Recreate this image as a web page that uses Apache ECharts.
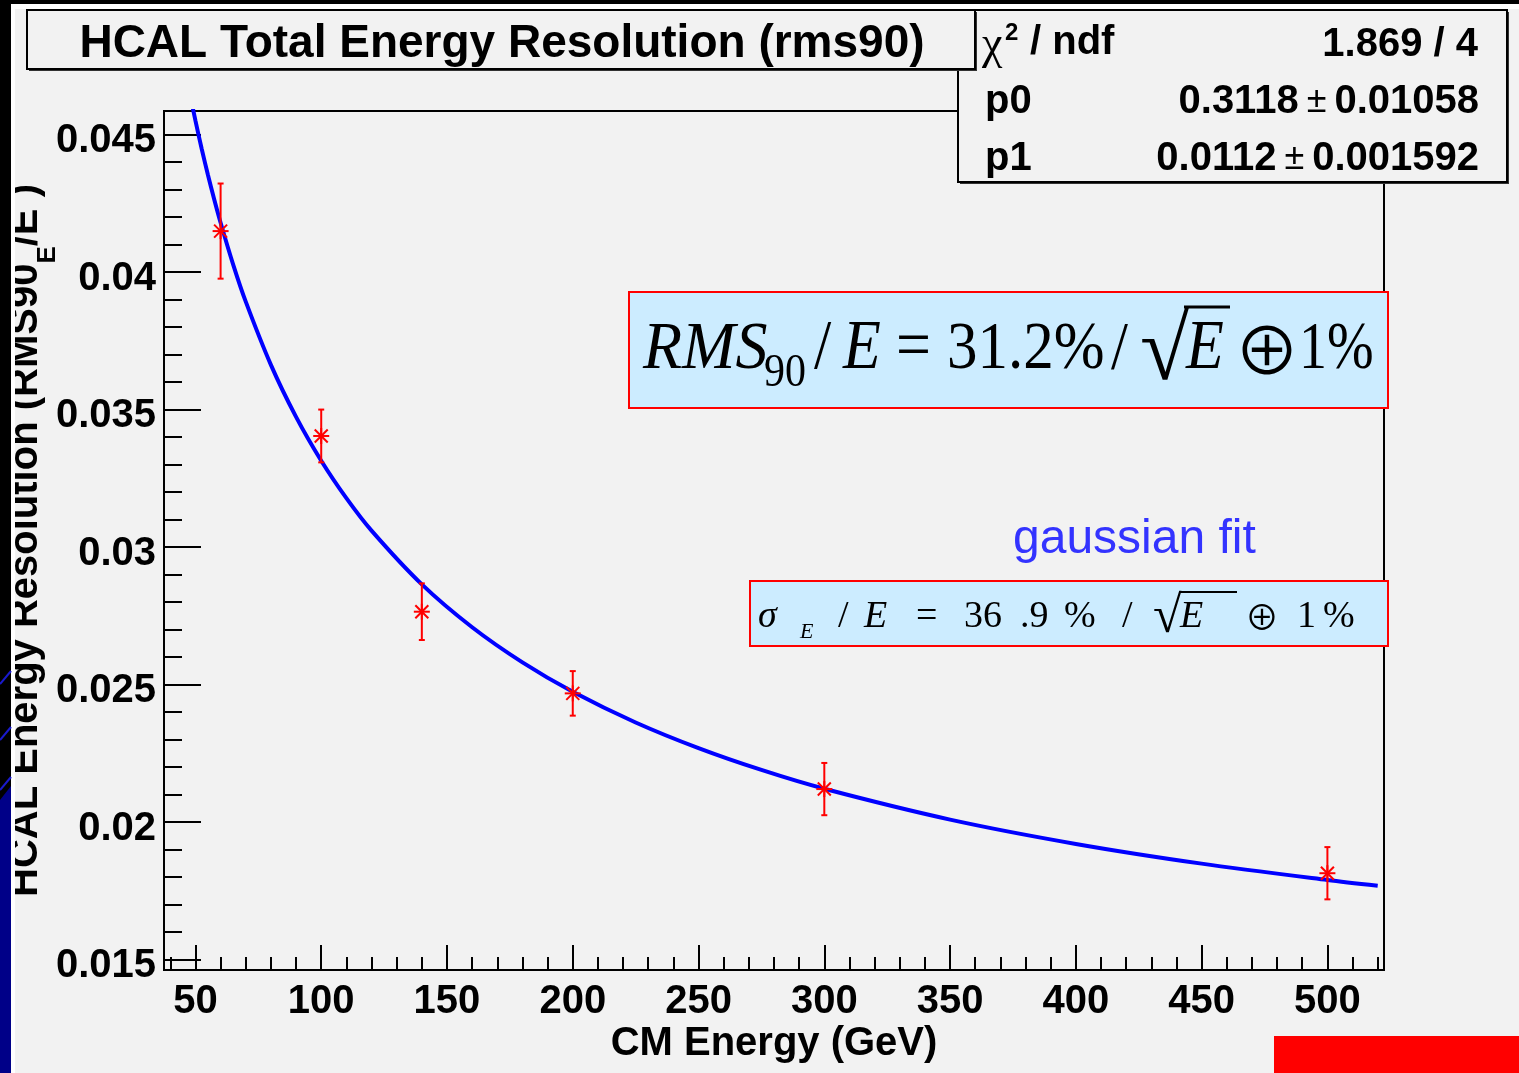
<!DOCTYPE html>
<html><head><meta charset="utf-8">
<script src="https://cdn.jsdelivr.net/npm/echarts@6/dist/echarts.min.js"></script>
<style>html,body{margin:0;padding:0;background:#f2f2f2;overflow:hidden}#c{width:1519px;height:1073px}</style>
</head><body><div id="c"></div>
<script>
// ---- data ----
const energies = [60, 100, 140, 200, 300, 500];
const resolution = [0.04148, 0.03403, 0.02764, 0.02467, 0.02119, 0.01813];
const resolutionErr = [0.00173, 0.00096, 0.00103, 0.00081, 0.00095, 0.00095];
// fit curve sampled (p0/sqrt(E) (+) p1, p0=0.3118, p1=0.0112)
const fitEnergies = [45, 47.5, 50, 52.5, 55, 57.5, 60, 65, 70, 80, 90, 100, 110, 120, 140, 160, 180, 200, 225, 250, 275, 300, 350, 400, 450, 500, 520];
const fitValues = [0.047811, 0.046606, 0.045495, 0.044466, 0.043509, 0.042617, 0.041782, 0.040263, 0.038914, 0.036615, 0.034723, 0.033131, 0.031769, 0.030588, 0.028633, 0.027075, 0.025798, 0.024729, 0.023612, 0.022679, 0.021885, 0.021201, 0.020080, 0.019196, 0.018479, 0.017885, 0.017675];
const xMajorTicks = [50, 100, 150, 200, 250, 300, 350, 400, 450, 500];
const xMinorTicks = [40, 60, 70, 80, 90, 110, 120, 130, 140, 160, 170, 180, 190, 210, 220, 230, 240, 260, 270, 280, 290, 310, 320, 330, 340, 360, 370, 380, 390, 410, 420, 430, 440, 460, 470, 480, 490, 510, 520];
const yMajorTicks = [0.015, 0.02, 0.025, 0.03, 0.035, 0.04, 0.045];
const yTickLabels = ['0.015', '0.02', '0.025', '0.03', '0.035', '0.04', '0.045'];
const yMinorTicks = [0.016, 0.017, 0.018, 0.019, 0.021, 0.022, 0.023, 0.024, 0.026, 0.027, 0.028, 0.029, 0.031, 0.032, 0.033, 0.034, 0.036, 0.037, 0.038, 0.039, 0.041, 0.042, 0.043, 0.044];
const titleText = 'HCAL Total Energy Resolution (rms90)';
const xTitle = 'CM Energy (GeV)';
const statsRows = [['chi', '1.869 / 4'], ['p0', ['0.3118', '0.01058']], ['p1', ['0.0112', '0.001592']]];

const X_MIN = 37.5, X_MAX = 522.5, Y_MIN = 0.014611, Y_MAX = 0.045847;
const SANS = '"Liberation Sans", Arial, Helvetica, sans-serif';
const SERIF = '"Liberation Serif", "Times New Roman", "DejaVu Serif", serif';
const OPLUS = '"Noto Sans CJK JP", "DejaVu Serif", serif';

const chart = echarts.init(document.getElementById('c'), null, {renderer: 'canvas'});

function T(text, x, y, font, opts) {
  opts = opts || {};
  return {type: 'text', x: x, y: y, z: opts.z || 120, silent: true,
    scaleY: opts.sy || 1, originX: 0, originY: 0,
    style: {text: text, font: font, fill: opts.fill || '#000',
      align: opts.align || 'left', textAlign: opts.align || 'left',
      verticalAlign: 'middle', textVerticalAlign: 'middle', rich: opts.rich}};
}
function L(x1, y1, x2, y2, w, color, z) {
  return {type: 'line', z: z || 120, silent: true, shape: {x1, y1, x2, y2}, style: {stroke: color || '#000', lineWidth: w}};
}
function R(x, y, w, h, fill, stroke, lw, z) {
  return {type: 'rect', z: z, silent: true, shape: {x, y, width: w, height: h}, style: {fill: fill, stroke: stroke, lineWidth: lw || 0}};
}

const pmRich = {b: {font: 'bold 40px ' + SANS}, p: {font: '36px ' + SANS, padding: [0, 8, 0, 8]}};

const graphics = [
  // screenshot edges
  R(0, 0, 1519, 4, '#000', null, 0, 1),
  R(0, 4, 1519, 5, '#fff', null, 0, 1),
  R(0, 0, 11, 1073, '#000', null, 0, 1),
  R(11, 4, 4, 1069, '#fff', null, 0, 1),
  {type: 'polygon', z: 2, silent: true, shape: {points: [[0, 800], [11, 786], [11, 1073], [0, 1073]]}, style: {fill: '#000088'}},
  {type: 'polyline', z: 2, silent: true, shape: {points: [[0, 684], [11, 671]]}, style: {stroke: '#1a1acc', lineWidth: 2}},
  {type: 'polyline', z: 2, silent: true, shape: {points: [[0, 740], [11, 727]]}, style: {stroke: '#1a1acc', lineWidth: 2}},
  {type: 'polyline', z: 2, silent: true, shape: {points: [[0, 790], [11, 777]]}, style: {stroke: '#1a1acc', lineWidth: 2}},
  R(1274, 1036, 245, 37, '#ff0000', null, 0, 1),

  // stats box (below title box)
  R(960, 12, 549, 172, '#333', null, 0, 100),
  R(958, 10, 549, 172, '#f2f2f2', '#000', 2, 101),
  T('χ', 982, 46, '46px ' + SERIF, {z: 110}),
  T('2', 1005, 33, 'bold 24px ' + SANS, {z: 110}),
  T('/ ndf', 1030, 43, 'bold 40px ' + SANS, {z: 110}),
  T('p0', 985, 102, 'bold 40px ' + SANS, {z: 110}),
  T('p1', 985, 159, 'bold 40px ' + SANS, {z: 110}),
  T(statsRows[0][1], 1478, 45, 'bold 40px ' + SANS, {z: 110, align: 'right'}),
  T('{b|' + statsRows[1][1][0] + '}{p|±}{b|' + statsRows[1][1][1] + '}', 1479, 102, 'bold 40px ' + SANS,
    {z: 110, align: 'right', rich: pmRich}),
  T('{b|' + statsRows[2][1][0] + '}{p|±}{b|' + statsRows[2][1][1] + '}', 1479, 159, 'bold 40px ' + SANS,
    {z: 110, align: 'right', rich: pmRich}),

  // title box
  R(29, 12, 948, 59, '#333', null, 0, 111),
  R(27, 10, 948, 59, '#f2f2f2', '#000', 2, 112),
  T(titleText, 502, 44, 'bold 46px ' + SANS, {z: 115, align: 'center'}),

  // RMS90 box
  R(629, 292, 759, 116, '#ccecff', '#ff0000', 2, 90),
  T('RMS', 643, 350, 'italic 64px ' + SERIF, {z: 95, sy: 1.05}),
  T('90', 764, 374, '42px ' + SERIF, {z: 95, sy: 1.1}),
  T('/', 814, 350, '62px ' + SERIF, {z: 95, sy: 1.12}),
  T('E', 843, 350, 'italic 62px ' + SERIF, {z: 95, sy: 1.12}),
  T('=', 896, 350, '62px ' + SERIF, {z: 95, sy: 1.12}),
  T('31.2%', 947, 350, '61px ' + SERIF, {z: 95, sy: 1.12}),
  T('/', 1111, 350, '61px ' + SERIF, {z: 95, sy: 1.12}),
  T('√', 1140, 355, '90px ' + SERIF, {z: 95, sy: 1.02}),
  L(1184, 307, 1230, 307, 3, '#000', 95),
  T('E', 1186, 350, 'italic 62px ' + SERIF, {z: 95, sy: 1.12}),
  T('⊕', 1234, 350, '66px ' + OPLUS, {z: 95}),
  T('1%', 1299, 350, '56px ' + SERIF, {z: 95, sy: 1.2}),

  // gaussian fit label
  T('gaussian fit', 1013, 540, '48px ' + SANS, {z: 95, fill: '#3333ff'}),

  // sigma box
  R(750, 581, 638, 65, '#ccecff', '#ff0000', 2, 90),
  T('σ', 758, 617, 'italic 38px ' + SERIF, {z: 95}),
  T('E', 800, 632, 'italic 22px ' + SERIF, {z: 95}),
  T('/', 838, 617, '38px ' + SERIF, {z: 95}),
  T('E', 864, 617, 'italic 38px ' + SERIF, {z: 95}),
  T('=', 916, 617, '38px ' + SERIF, {z: 95}),
  T('36', 964, 617, '38px ' + SERIF, {z: 95}),
  T('.9', 1020, 617, '38px ' + SERIF, {z: 95}),
  T('%', 1064, 617, '38px ' + SERIF, {z: 95}),
  T('/', 1122, 617, '38px ' + SERIF, {z: 95}),
  T('√', 1153, 618, '52px ' + SERIF, {z: 95}),
  L(1179, 592, 1237, 592, 2, '#000', 95),
  T('E', 1180, 617, 'italic 38px ' + SERIF, {z: 95}),
  T('⊕', 1245, 617, '34px ' + OPLUS, {z: 95}),
  T('1', 1297, 617, '38px ' + SERIF, {z: 95}),
  T('%', 1323, 617, '38px ' + SERIF, {z: 95})
];

const tickLabelStyle = {color: '#000', fontFamily: SANS, fontWeight: 'bold', fontSize: 40};

const option = {
  backgroundColor: '#f2f2f2',
  animation: false,
  textStyle: {fontFamily: SANS},
  grid: {left: 164, right: 135, top: 111, bottom: 103, show: true, borderColor: '#000', borderWidth: 2,
    backgroundColor: 'transparent', containLabel: false, outerBoundsMode: 'none'},
  xAxis: [
    {type: 'value', min: X_MIN, max: X_MAX, position: 'bottom',
      name: xTitle, nameLocation: 'middle', nameGap: 54, nameMoveOverlap: false,
      nameTextStyle: {color: '#000', fontFamily: SANS, fontWeight: 'bold', fontSize: 40},
      axisLine: {show: true, lineStyle: {color: '#000', width: 2}},
      axisTick: {show: true, inside: true, length: 25, customValues: xMajorTicks, lineStyle: {color: '#000', width: 2}},
      axisLabel: Object.assign({show: true, margin: 12, customValues: xMajorTicks, formatter: v => String(v)}, tickLabelStyle),
      splitLine: {show: false}},
    {type: 'value', min: X_MIN, max: X_MAX, position: 'bottom',
      axisLine: {show: false},
      axisTick: {show: true, inside: true, length: 13, customValues: xMinorTicks, lineStyle: {color: '#000', width: 2}},
      axisLabel: {show: false}, splitLine: {show: false}}
  ],
  yAxis: [
    {type: 'value', min: Y_MIN, max: Y_MAX, position: 'left',
      name: '{a|HCAL Energy Resolution (RMS90}{s|E}{a|/E )}', nameLocation: 'middle', nameGap: 103, nameRotate: 90,
      nameMoveOverlap: false,
      nameTextStyle: {color: '#000', rich: {
        a: {fontFamily: SANS, fontWeight: 'bold', fontSize: 40, lineHeight: 70, verticalAlign: 'middle', color: '#000'},
        s: {fontFamily: SANS, fontWeight: 'bold', fontSize: 26, lineHeight: 70, verticalAlign: 'bottom', color: '#000'}}},
      axisLine: {show: true, lineStyle: {color: '#000', width: 2}},
      axisTick: {show: true, inside: true, length: 37, customValues: yMajorTicks, lineStyle: {color: '#000', width: 2}},
      axisLabel: Object.assign({show: true, margin: 8, customValues: yMajorTicks,
        rich: {v: {fontFamily: SANS, fontWeight: 'bold', fontSize: 40, color: '#000', padding: [14, 0, 0, 0]}},
        formatter: v => { const i = yMajorTicks.findIndex(t => Math.abs(t - v) < 1e-9); return i >= 0 ? '{v|' + yTickLabels[i] + '}' : ''; }}, tickLabelStyle),
      splitLine: {show: false}},
    {type: 'value', min: Y_MIN, max: Y_MAX, position: 'left',
      axisLine: {show: false},
      axisTick: {show: true, inside: true, length: 18, customValues: yMinorTicks, lineStyle: {color: '#000', width: 2}},
      axisLabel: {show: false}, splitLine: {show: false}}
  ],
  graphic: {elements: graphics},
  series: [
    {type: 'line', name: 'fit', xAxisIndex: 0, yAxisIndex: 0, z: 5,
      data: fitEnergies.map((e, i) => [e, fitValues[i]]),
      showSymbol: false, smooth: 0.3, clip: true,
      lineStyle: {color: '#0000ff', width: 4}},
    {type: 'custom', name: 'data', xAxisIndex: 0, yAxisIndex: 0, z: 6, clip: true,
      data: energies.map((e, i) => [e, resolution[i], resolutionErr[i]]),
      renderItem: function (params, api) {
        const x = api.value(0), y = api.value(1), err = api.value(2);
        const c = api.coord([x, y]);
        const t = api.coord([x, y + err]);
        const b = api.coord([x, y - err]);
        const st = {stroke: '#ff0000', lineWidth: 2};
        const s = 8, d = 6.5, cap = 3;
        const ln = (x1, y1, x2, y2) => ({type: 'line', shape: {x1, y1, x2, y2}, style: st});
        return {type: 'group', children: [
          ln(c[0], t[1], c[0], b[1]),
          ln(c[0] - cap, t[1], c[0] + cap, t[1]),
          ln(c[0] - cap, b[1], c[0] + cap, b[1]),
          ln(c[0] - s, c[1], c[0] + s, c[1]),
          ln(c[0], c[1] - s, c[0], c[1] + s),
          ln(c[0] - d, c[1] - d, c[0] + d, c[1] + d),
          ln(c[0] - d, c[1] + d, c[0] + d, c[1] - d)
        ]};
      }}
  ]
};
chart.setOption(option);
</script>
</body></html>
